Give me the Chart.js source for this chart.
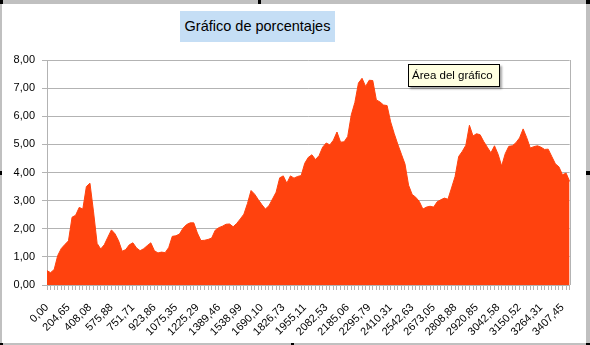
<!DOCTYPE html>
<html>
<head>
<meta charset="utf-8">
<script src="https://cdn.jsdelivr.net/npm/chart.js@4/dist/chart.umd.min.js"></script>
<style>
  body { margin: 0; background: #fff; }
  #wrap { position: relative; width: 590px; height: 345px; overflow: hidden; font-family: "Liberation Sans", Arial, sans-serif; }
  #grafico { position: absolute; left: 0; top: 0; }
  .borde { position: absolute; background: #c0c0c0; }
  .asa { position: absolute; background: #000; }
  #titulo { position: absolute; left: 180px; top: 11px; width: 155px; height: 31px; background: #c5def5;
            font-size: 14.5px; line-height: 31px; text-align: center; color: #000; white-space: nowrap; }
  #ayuda { position: absolute; left: 408px; top: 64px; width: 87px; height: 21px; background: #ffffe1;
           border: 1px solid #000; box-shadow: 2px 2px 2px rgba(0,0,0,0.35); white-space: nowrap;
           font-size: 11.5px; line-height: 21px; padding-left: 3px; box-sizing: content-box; color: #000; }
</style>
</head>
<body>
<div id="wrap">
  <canvas id="grafico" width="590" height="345"></canvas>
  <div class="borde" style="left:0;top:0;width:590px;height:4px"></div>
  <div class="borde" style="left:0;top:0;width:2px;height:345px"></div>
  <div class="borde" style="left:586px;top:0;width:4px;height:345px"></div>
  <div class="borde" style="left:0;top:343px;width:590px;height:2px"></div>
  <div class="asa" style="left:0;top:0;width:3px;height:4px"></div>
  <div class="asa" style="left:258px;top:0;width:3px;height:4px"></div>
  <div class="asa" style="left:586px;top:0;width:4px;height:4px"></div>
  <div class="asa" style="left:0;top:171px;width:2px;height:4px"></div>
  <div class="asa" style="left:586px;top:171px;width:4px;height:4px"></div>
  <div class="asa" style="left:0;top:343px;width:3px;height:2px"></div>
  <div class="asa" style="left:291px;top:343px;width:3px;height:2px"></div>
  <div class="asa" style="left:586px;top:343px;width:4px;height:2px"></div>
  <div id="titulo">Gráfico de porcentajes</div>
  <div id="ayuda">Área del gráfico</div>
</div>
<script>
var tick_labels = ['0,00', '204,65', '408,08', '575,88', '751,71', '923,86', '1075,35', '1225,29',
  '1389,46', '1538,99', '1690,10', '1826,73', '1955,11', '2082,53', '2185,06', '2295,79',
  '2410,31', '2542,63', '2673,05', '2808,88', '2920,85', '3042,58', '3150,52', '3264,31', '3407,45'];

// one point every 1/6 of a labelled interval
var porcentajes = [
  0.51, 0.44, 0.55, 1.05, 1.30, 1.44, 1.57, 2.41, 2.48, 2.76,
  2.70, 3.50, 3.62, 2.60, 1.48, 1.28, 1.43, 1.70, 1.96, 1.82,
  1.57, 1.20, 1.26, 1.43, 1.50, 1.32, 1.22, 1.29, 1.40, 1.50,
  1.22, 1.14, 1.17, 1.15, 1.33, 1.73, 1.75, 1.81, 2.02, 2.15,
  2.21, 2.21, 1.85, 1.58, 1.59, 1.62, 1.67, 1.95, 2.04, 2.09,
  2.16, 2.17, 2.07, 2.19, 2.35, 2.52, 2.90, 3.36, 3.23, 3.04,
  2.86, 2.70, 2.82, 3.06, 3.30, 3.81, 3.88, 3.62, 3.88, 3.80,
  3.86, 3.89, 4.33, 4.54, 4.63, 4.46, 4.60, 4.90, 5.05, 4.98,
  5.15, 5.44, 5.08, 5.09, 5.28, 6.05, 6.49, 7.18, 7.35, 7.06,
  7.28, 7.27, 6.58, 6.51, 6.40, 6.38, 5.80, 5.38, 5.00, 4.65,
  4.30, 3.55, 3.22, 3.12, 2.97, 2.70, 2.77, 2.80, 2.77, 2.96,
  3.03, 3.09, 3.05, 3.45, 3.86, 4.57, 4.75, 4.97, 5.68, 5.30,
  5.38, 5.34, 5.10, 4.90, 4.70, 4.95, 4.65, 4.23, 4.67, 4.93,
  4.95, 5.06, 5.23, 5.55, 5.24, 4.87, 4.92, 4.95, 4.90, 4.82,
  4.83, 4.57, 4.31, 4.20, 3.92, 3.98, 3.68
];

var categorias = porcentajes.map(function (v, i) {
  return (i % 6 === 0 && tick_labels[i / 6]) ? tick_labels[i / 6] : '';
});

var borde_derecho = {
  id: 'borde_derecho',
  afterDatasetsDraw: function (chart) {
    var a = chart.chartArea, ctx = chart.ctx;
    ctx.save();
    ctx.strokeStyle = '#b3b3b3';
    ctx.lineWidth = 1;
    ctx.beginPath();
    ctx.moveTo(Math.round(a.right) + 0.5, a.top);
    ctx.lineTo(Math.round(a.right) + 0.5, a.bottom);
    ctx.stroke();
    ctx.restore();
  }
};

var ctx = document.getElementById('grafico').getContext('2d');

var grafico = new Chart(ctx, {
  type: 'line',
  data: {
    labels: categorias,
    datasets: [{
      data: porcentajes,
      fill: 'origin',
      backgroundColor: '#ff420e',
      borderColor: '#ff420e',
      borderWidth: 1,
      pointRadius: 0,
      tension: 0
    }]
  },
  options: {
    responsive: false,
    animation: false,
    devicePixelRatio: 1,
    layout: { padding: { left: 0, right: 15, top: 60, bottom: 0 } },
    plugins: {
      legend: { display: false },
      title: { display: false },
      tooltip: { enabled: false }
    },
    scales: {
      x: {
        type: 'category',
        offset: false,
        afterFit: function (scale) { scale.height = 60; },
        grid: { display: true, drawOnChartArea: false, drawTicks: true, tickLength: 5, color: '#b3b3b3', offset: false },
        border: { color: '#b3b3b3' },
        ticks: {
          autoSkip: false,
          minRotation: 45,
          maxRotation: 45,
          padding: 11,
          color: '#000',
          font: { family: 'Liberation Sans', size: 11 }
        }
      },
      y: {
        min: 0,
        max: 8,
        afterFit: function (scale) { scale.width = 47; },
        grid: { color: '#b3b3b3', tickLength: 5 },
        border: { color: '#b3b3b3' },
        ticks: {
          stepSize: 1,
          padding: 7,
          color: '#000',
          font: { family: 'Liberation Sans', size: 11 },
          callback: function (v) { return v.toFixed(2).replace('.', ','); }
        }
      }
    }
  },
  plugins: [borde_derecho]
});
</script>
</body>
</html>
